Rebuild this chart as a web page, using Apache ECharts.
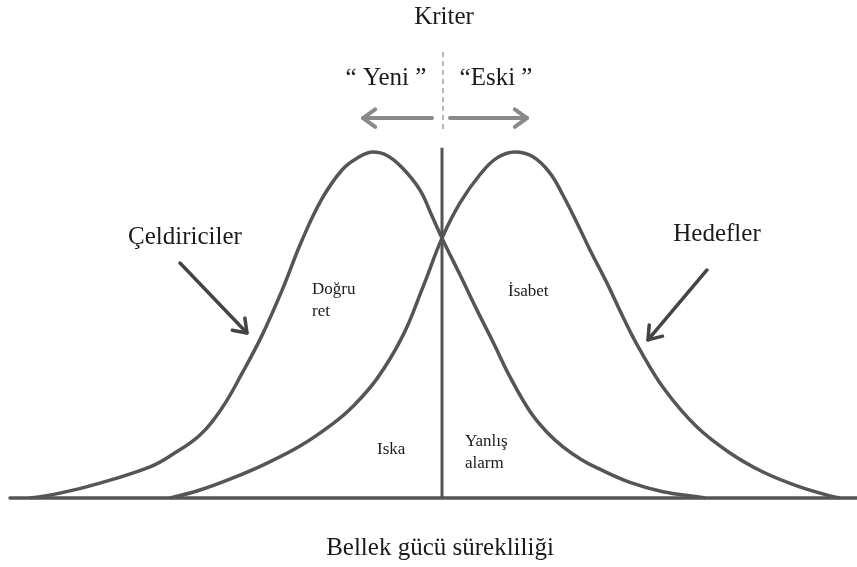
<!DOCTYPE html>
<html>
<head>
<meta charset="utf-8">
<script src="https://cdn.jsdelivr.net/npm/echarts@6/dist/echarts.min.js"></script>
<style>
  html, body { margin: 0; padding: 0; background: #fff; }
  #chart { width: 857px; height: 567px; }
</style>
</head>
<body>
<div id="chart"></div>
<script>
// bellek gücü ekseni (kriter = 0), yoğunluk (tepe = 1)
const distractorX = [-4.12, -3.82, -3.42, -2.92, -2.7, -2.42, -2.2, -2.0, -1.8, -1.6, -1.4, -1.2, -1.0, -0.85, -0.69, -0.55, -0.4, -0.22, -0.1, 0, 0.18, 0.35, 0.51, 0.68, 0.88, 1.05, 1.21, 1.4, 1.55, 1.88, 2.21, 2.55, 2.63]
const distractorY = [0, 0.014, 0.043, 0.090, 0.125, 0.182, 0.26, 0.36, 0.47, 0.60, 0.745, 0.865, 0.948, 0.982, 1.0, 0.99, 0.955, 0.89, 0.815, 0.751, 0.645, 0.543, 0.451, 0.350, 0.25, 0.19, 0.148, 0.11, 0.087, 0.045, 0.018, 0.004, 0]

const targetX = [-2.72, -2.42, -2.09, -1.77, -1.42, -1.09, -0.9, -0.65, -0.39, -0.19, 0, 0.18, 0.38, 0.55, 0.73, 0.91, 1.08, 1.21, 1.35, 1.48, 1.65, 1.81, 1.98, 2.23, 2.55, 2.88, 3.21, 3.55, 3.88, 3.98]
const targetY = [0, 0.023, 0.058, 0.098, 0.150, 0.215, 0.262, 0.345, 0.47, 0.61, 0.751, 0.853, 0.935, 0.983, 1.0, 0.986, 0.939, 0.875, 0.795, 0.717, 0.621, 0.523, 0.428, 0.312, 0.205, 0.130, 0.075, 0.035, 0.006, 0]

const criterion = 0
const criterionTop = 1.012

// oklar: [x1, y1, x2, y2]
const responseArrows = [
  [-0.10, 1.098, -0.79, 1.098],
  [0.08, 1.098, 0.85, 1.098]
]
const pointerArrows = [
  [-2.62, 0.679, -1.95, 0.477],
  [2.65, 0.659, 2.06, 0.457]
]

const zip = (xs, ys) => xs.map((x, i) => [x, ys[i]])

const serif = '"Liberation Serif", "DejaVu Serif", serif'
const lineColor = '#555'
const textColor = '#1a1a1a'

// ok çizimi (gövde + açık uç)
const arrowRenderer = (head, color, width) => (params, api) => {
  const p1 = api.coord([api.value(0), api.value(1)])
  const p2 = api.coord([api.value(2), api.value(3)])
  const ang = Math.atan2(p2[1] - p1[1], p2[0] - p1[0])
  const a1 = ang + Math.PI - 0.62
  const a2 = ang + Math.PI + 0.62
  const style = { stroke: color, lineWidth: width, fill: null, lineCap: 'round', lineJoin: 'round' }
  return {
    type: 'group',
    children: [
      { type: 'line', shape: { x1: p1[0], y1: p1[1], x2: p2[0], y2: p2[1] }, style },
      {
        type: 'polyline',
        shape: {
          points: [
            [p2[0] + head * Math.cos(a1), p2[1] + head * Math.sin(a1)],
            p2,
            [p2[0] + head * Math.cos(a2), p2[1] + head * Math.sin(a2)]
          ]
        },
        style
      }
    ]
  }
}

const label = (text, x, y, size, align, lineHeight) => ({
  type: 'text',
  x,
  y,
  style: {
    text,
    font: size + 'px ' + serif,
    fill: textColor,
    align: align || 'center',
    verticalAlign: 'middle',
    lineHeight: lineHeight || size
  }
})

const chartInstance = echarts.init(document.getElementById('chart'), null, { renderer: 'canvas' })

const option = {
  animation: false,
  backgroundColor: '#fff',
  grid: { left: 10, right: 0, top: 48.2, bottom: 69 },
  xAxis: {
    type: 'value',
    min: -4.32,
    max: 4.15,
    axisLine: { show: true, onZero: false, lineStyle: { color: lineColor, width: 3.5 } },
    axisTick: { show: false },
    axisLabel: { show: false },
    splitLine: { show: false }
  },
  yAxis: {
    type: 'value',
    min: 0,
    max: 1.3,
    show: false
  },
  graphic: [
    label('Kriter', 444, 17, 25),
    label('\u201C Yeni \u201D', 386, 78, 25),
    label('\u201CEski \u201D', 496, 78, 25),
    label('Çeldiriciler', 185, 237, 25),
    label('Hedefler', 717, 234, 25),
    label('Bellek gücü sürekliliği', 440, 548, 25),
    label('Doğru\nret', 312, 301, 17, 'left', 22),
    label('İsabet', 508, 292, 17, 'left'),
    label('Iska', 377, 450, 17, 'left'),
    label('Yanlış\nalarm', 465, 453, 17, 'left', 22)
  ],
  series: [
    {
      name: 'Çeldiriciler',
      type: 'line',
      data: zip(distractorX, distractorY),
      smooth: 0.4,
      showSymbol: false,
      lineStyle: { color: lineColor, width: 3.5 },
      z: 3
    },
    {
      name: 'Hedefler',
      type: 'line',
      data: zip(targetX, targetY),
      smooth: 0.4,
      showSymbol: false,
      lineStyle: { color: lineColor, width: 3.5 },
      z: 3
    },
    {
      name: 'Kriter',
      type: 'line',
      data: [[criterion, 0], [criterion, criterionTop]],
      showSymbol: false,
      lineStyle: { color: lineColor, width: 3 },
      z: 4
    },
    {
      name: 'Kriter (kesikli)',
      type: 'line',
      data: [[criterion + 0.01, 1.289], [criterion + 0.01, 1.064]],
      showSymbol: false,
      lineStyle: { color: '#888', width: 1.2, type: [5, 4] }
    },
    {
      name: 'Yanıt okları',
      type: 'custom',
      renderItem: arrowRenderer(15, '#8a8a8a', 4),
      data: responseArrows
    },
    {
      name: 'İşaret okları',
      type: 'custom',
      renderItem: arrowRenderer(15, '#444', 3.5),
      data: pointerArrows
    }
  ]
}

chartInstance.setOption(option)
</script>
</body>
</html>
